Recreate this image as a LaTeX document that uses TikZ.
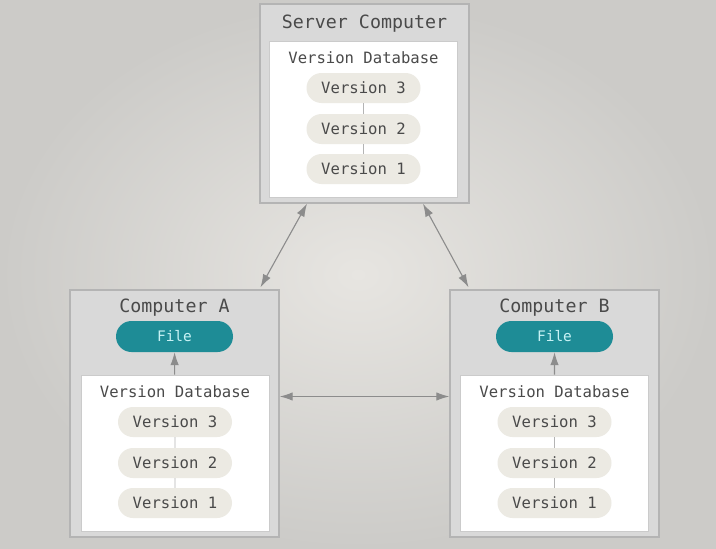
\documentclass[tikz,border=0pt]{standalone}
\usepackage{fontspec}
\setmonofont{DejaVu Sans Mono}
\usetikzlibrary{arrows.meta,calc,shapes.misc}
\definecolor{bgin}{HTML}{E7E5E1}
\definecolor{bgout}{HTML}{CCCBC8}
\definecolor{boxfill}{HTML}{D9D9D9}
\definecolor{boxline}{HTML}{B4B4B4}
\definecolor{ink}{HTML}{4A4A4A}
\definecolor{pill}{HTML}{ECEAE3}
\definecolor{teal}{HTML}{1E8C96}
\definecolor{tealtext}{HTML}{C8F2F5}
\definecolor{arrowgray}{HTML}{8C8C8C}
\tikzset{
 machine/.style={draw=boxline,fill=boxfill,line width=1.4pt,minimum width=209pt},
 database/.style={draw=boxline!70,fill=white,line width=0.8pt,minimum width=188pt,minimum height=156pt},
 title/.style={text=ink,font=\ttfamily\fontsize{18.3}{21}\selectfont},
 dblabel/.style={text=ink,font=\ttfamily\fontsize{15.6}{18}\selectfont},
 version/.style={rounded rectangle,fill=pill,text=ink,minimum width=114pt,minimum height=30pt,
  inner sep=0pt,font=\ttfamily\fontsize{15.6}{18}\selectfont},
 workfile/.style={rounded rectangle,fill=teal,text=tealtext,minimum width=117pt,minimum height=31pt,
  inner sep=0pt,font=\ttfamily\fontsize{14.5}{17}\selectfont},
 tie/.style={draw=boxline,line width=0.8pt},
 link/.style={draw=arrowgray,line width=1.1pt},
}
\begin{document}
\begin{tikzpicture}[x=1pt,y=-1pt,>={Latex[length=13pt,width=8.5pt]}]
 \shade[inner color=bgin,outer color=bgout] (0,0) rectangle (716,549);
 \useasboundingbox (0,0) rectangle (716,549);
 % machines
 \node[machine,minimum height=199pt] (srv) at (364.5,103.5) {};
 \node[machine,minimum height=247pt] (cpa) at (174.5,413.5) {};
 \node[machine,minimum height=247pt] (cpb) at (554.5,413.5) {};
 \node[title] (srvt) at (364.5,23.5) {Server Computer};
 \node[title] (cpat) at (174.5,307.5) {Computer A};
 \node[title] (cpbt) at (554.5,307.5) {Computer B};
 % version databases
 \foreach \n/\x/\y in {dbs/363.5/41,dba/175/375,dbb/554.5/375}{
  \node[database] (\n) at (\x,\y+78) {};
  \node[dblabel] (\n-l) at (\x,\y+17) {Version Database};
  \node[version] (\n-3) at (\x,\y+47) {Version 3};
  \node[version] (\n-2) at (\x,\y+88) {Version 2};
  \node[version] (\n-1) at (\x,\y+128) {Version 1};
  \draw[tie] (\n-3) -- (\n-2);
  \draw[tie] (\n-2) -- (\n-1);
 }
 % working copies
 \node[workfile] (fila) at (174.5,336.5) {File};
 \node[workfile] (filb) at (554.5,336.5) {File};
 \draw[link,->] (dba) -- (fila);
 \draw[link,->] (dbb) -- (filb);
 % sync with the server and between computers
 \draw[link,<->] ($(srv.south)+(-57.5,0)$) -- ($(cpa.north)+(86,-2)$);
 \draw[link,<->] ($(srv.south)+(58.5,0)$) -- ($(cpb.north)+(-86,-2)$);
 \draw[link,<->] ($(cpa.east)+(0,-17)$) -- ($(cpb.west)+(0,-17)$);
\end{tikzpicture}
\end{document}
